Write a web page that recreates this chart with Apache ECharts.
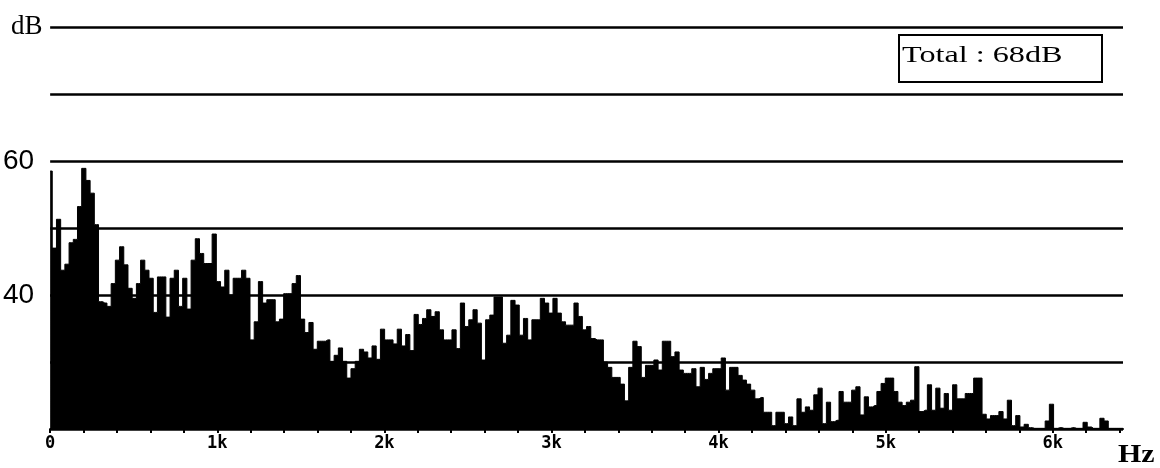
<!DOCTYPE html>
<html>
<head>
<meta charset="utf-8">
<script src="https://cdn.jsdelivr.net/npm/echarts@6/dist/echarts.min.js"></script>
<style>
  html, body { margin: 0; padding: 0; background: #ffffff; }
  #chart-root { width: 1160px; height: 468px; }
</style>
</head>
<body>
<div id="chart-root"></div>
<script>
const levels = [
  58.5, 47.0, 51.3, 43.7, 44.6, 47.8, 48.3, 53.2, 58.9, 57.1,
  55.2, 50.5, 39.0, 38.8, 38.3, 41.7, 45.2, 47.2, 44.5, 41.0,
  39.5, 41.7, 45.2, 43.7, 42.5, 37.4, 42.7, 42.7, 36.7, 42.5,
  43.7, 38.3, 42.5, 37.9, 45.2, 48.4, 46.2, 44.7, 44.7, 49.1,
  42.0, 41.2, 43.7, 40.0, 42.5, 42.5, 43.7, 42.5, 33.3, 36.0,
  42.0, 38.8, 39.3, 39.3, 36.0, 36.4, 40.2, 40.2, 41.7, 42.9,
  36.4, 34.4, 35.9, 31.9, 33.1, 33.1, 33.3, 30.1, 31.0, 32.1,
  30.1, 27.6, 29.0, 30.1, 31.9, 31.5, 30.6, 32.4, 30.4, 34.9,
  33.3, 33.3, 32.7, 34.9, 32.4, 34.1, 31.7, 37.1, 35.6, 36.5,
  37.8, 36.8, 37.5, 34.8, 33.3, 33.3, 34.8, 32.0, 38.8, 35.3,
  36.3, 37.8, 35.8, 30.3, 36.3, 37.0, 39.7, 39.7, 32.8, 34.0,
  39.2, 38.5, 34.0, 36.5, 33.3, 36.3, 36.3, 39.5, 38.8, 37.3,
  39.5, 37.3, 36.0, 35.5, 35.5, 38.8, 36.8, 34.8, 35.3, 33.5,
  33.3, 33.3, 30.0, 29.2, 27.7, 27.7, 26.7, 24.2, 29.2, 33.1,
  32.3, 27.7, 29.5, 29.5, 30.3, 28.8, 33.1, 33.1, 30.8, 31.5,
  28.8, 28.3, 28.3, 29.0, 26.3, 29.2, 27.4, 28.3, 29.0, 29.0,
  30.6, 25.8, 29.2, 29.2, 28.0, 27.3, 26.7, 25.8, 24.5, 24.7,
  22.5, 22.5, 20.5, 22.5, 22.5, 20.8, 21.8, 20.5, 24.5, 22.5,
  23.3, 22.8, 25.1, 26.1, 20.8, 24.0, 21.1, 21.3, 25.6, 24.0,
  24.0, 25.8, 26.3, 22.1, 24.8, 23.3, 23.5, 25.6, 26.8, 27.6,
  27.6, 25.6, 24.0, 23.5, 24.0, 24.3, 29.3, 22.6, 22.8, 26.6,
  22.8, 26.1, 23.1, 25.3, 22.8, 26.6, 24.5, 24.5, 25.3, 25.3,
  27.6, 27.6, 22.2, 21.5, 22.0, 22.0, 22.6, 21.5, 24.3, 20.5,
  22.0, 20.3, 20.7, 20.2, 20.1, 20.1, 20.1, 21.2, 23.7, 20.1,
  20.2, 20.1, 20.1, 20.2, 20.1, 20.1, 21.0, 20.3, 20.1, 20.1,
  21.6, 21.2, 20.1, 20.1, 20.1, 20.1
];
const binHz = 25;
const bins = levels.map((_, i) => i * binHz);

const freqMax = 6420;       // right end of the frequency axis, Hz
const freqTickStep = 200;
const dbMin = 20;
const dbMax = 80;
const dbLabels = { 60: '60', 40: '40' };
const totalText = 'Total : 68dB';

const serif = '"Liberation Serif", "Times New Roman", serif';

const chart = echarts.init(document.getElementById('chart-root'), null, { renderer: 'canvas' });

chart.setOption({
  backgroundColor: '#ffffff',
  animation: false,
  grid: { left: 50, right: 37, top: 27, bottom: 39 },
  xAxis: [
    {
      type: 'value',
      min: 0,
      max: freqMax,
      interval: freqTickStep,
      axisLine: { show: true, lineStyle: { color: '#000', width: 2 } },
      axisTick: { show: true, length: 4, lineStyle: { color: '#000', width: 2 } },
      splitLine: { show: false },
      axisLabel: {
        color: '#000',
        fontFamily: '"DejaVu Sans Mono", monospace',
        fontWeight: 'bold',
        fontSize: 17,
        margin: 6,
        showMaxLabel: false,
        formatter: (v) => (v % 1000 === 0 ? (v === 0 ? '0' : v / 1000 + 'k') : '')
      }
    },
    {
      type: 'category',
      data: bins,
      show: false,
      boundaryGap: false
    }
  ],
  yAxis: {
    type: 'value',
    min: dbMin,
    max: dbMax,
    interval: 10,
    axisLine: { show: false },
    axisTick: { show: false },
    splitLine: { show: true, lineStyle: { color: '#000', width: 2.5 } },
    axisLabel: {
      color: '#000',
      fontFamily: '"Liberation Sans", Arial, sans-serif',
      fontSize: 28,
      margin: 16,
      formatter: (v) => dbLabels[v] || ''
    }
  },
  series: [
    {
      type: 'line',
      xAxisIndex: 1,
      data: levels,
      step: 'middle',
      showSymbol: false,
      symbol: 'none',
      lineStyle: { color: '#000', width: 1 },
      areaStyle: { color: '#000', opacity: 1, origin: 'start' },
      silent: true
    }
  ],
  graphic: [
    {
      type: 'text',
      x: 11,
      y: 27,
      style: { text: 'dB', font: '27px ' + serif, fill: '#000', verticalAlign: 'middle' }
    },
    {
      type: 'text',
      x: 1118,
      y: 455,
      scaleX: 1.15,
      style: { text: 'Hz', font: 'bold 26px ' + serif, fill: '#000', verticalAlign: 'middle' }
    },
    {
      type: 'rect',
      shape: { x: 899, y: 35, width: 203, height: 47 },
      style: { fill: '#fff', stroke: '#000', lineWidth: 2 }
    },
    {
      type: 'text',
      x: 902,
      y: 56,
      scaleX: 1.4,
      style: { text: totalText, font: '23px ' + serif, fill: '#000', verticalAlign: 'middle' }
    }
  ]
});
</script>
</body>
</html>
